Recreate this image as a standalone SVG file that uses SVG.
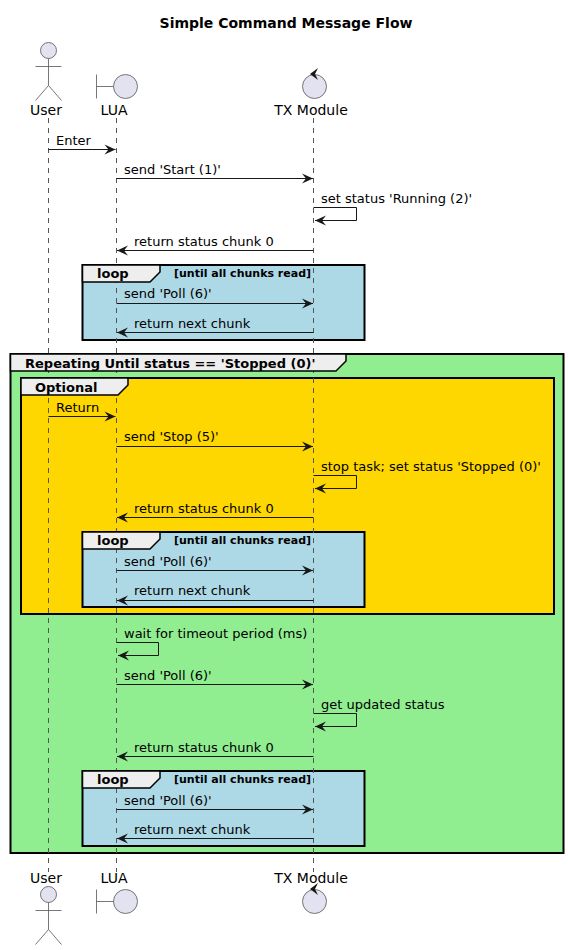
<svg xmlns="http://www.w3.org/2000/svg" width="568" height="950" viewBox="0 0 568 950">
<style>
text{font-family:"DejaVu Sans",sans-serif;fill:#000}
.title{font-size:14px;font-weight:bold;text-anchor:middle}
.name{font-size:14px;text-anchor:middle}
.msg{font-size:13px}
.gl{font-size:13px;font-weight:bold}
.gc{font-size:11px;font-weight:bold}
.life{stroke:#555;stroke-width:1;stroke-dasharray:5,5;fill:none}
.m{stroke:#181818;stroke-width:1;fill:none;marker-end:url(#arrow)}
.sh{fill:#E2E2F0;stroke:#555;stroke-width:.8}
.ln{fill:none;stroke:#555;stroke-width:.8}
.frame{stroke:#000;stroke-width:2}
.tab{fill:#EEE;stroke:#000;stroke-width:1.5}
</style>
<defs>
<marker id="arrow" markerUnits="userSpaceOnUse" markerWidth="14" markerHeight="12" refX="12" refY="6" orient="auto">
<path d="M1,1 L12,6 L1,11 L5,6 Z" fill="#181818"/>
</marker>
<g id="actor"><circle cx="0" cy="0" r="8" class="sh"/><path class="ln" d="M0,8V35M-13,16H13M0,35L-13,50M0,35L13,50"/></g>
<g id="boundary"><circle cx="0" cy="0" r="12" class="sh"/><path class="ln" d="M-12,0H-29M-29,-12V12"/></g>
<g id="control"><circle cx="0" cy="0" r="12" class="sh"/><path d="M-4.500,-12.500 L3.500,-18.500 L0.500,-12.500 L3.500,-6.500 Z" fill="#181818"/></g>
</defs>
<rect width="568" height="950" fill="#fff"/>
<text class="title" x="286" y="28">Simple Command Message Flow</text>

<g id="frames-fill">
<rect x="82.500" y="265" width="282" height="75" fill="#ADD8E6" class="frame"/>
<rect x="10.500" y="354" width="553" height="499" fill="#90EE90" class="frame"/>
<rect x="21" y="378" width="533" height="236" fill="#FFD700" class="frame"/>
<rect x="82.500" y="532" width="282" height="75" fill="#ADD8E6" class="frame"/>
<rect x="82.500" y="771" width="282" height="75" fill="#ADD8E6" class="frame"/>
</g>

<g id="lifelines">
<line class="life" x1="48.500" y1="118" x2="48.500" y2="872"/>
<line class="life" x1="116.500" y1="118" x2="116.500" y2="872"/>
<line class="life" x1="313.500" y1="118" x2="313.500" y2="872"/>
</g>

<g id="group-tabs">
<path class="tab" d="M82.500,265H160V272L150,282H82.500Z"/>
<text class="gl" x="97" y="278">loop</text><text class="gc" x="174" y="277">[until all chunks read]</text>
<path class="tab" d="M10.500,354H346V361L336,371H10.500Z"/>
<text class="gl" x="25" y="368">Repeating Until status == 'Stopped (0)'</text>
<path class="tab" d="M21,378H128V385L118,395H21Z"/>
<text class="gl" x="35" y="392">Optional</text>
<path class="tab" d="M82.500,532H160V539L150,549H82.500Z"/>
<text class="gl" x="97" y="545">loop</text><text class="gc" x="174" y="544">[until all chunks read]</text>
<path class="tab" d="M82.500,771H160V778L150,788H82.500Z"/>
<text class="gl" x="97" y="784">loop</text><text class="gc" x="174" y="783">[until all chunks read]</text>
</g>

<g id="connectors">
<line class="m" x1="48.500" y1="149.500" x2="115.500" y2="149.500"/>
<line class="m" x1="116.500" y1="178.500" x2="313" y2="178.500"/>
<path class="m" d="M313.500,207.500H356.500V220.500H315"/>
<line class="m" x1="313.500" y1="250.500" x2="117" y2="250.500"/>
<line class="m" x1="116.500" y1="303.500" x2="313" y2="303.500"/>
<line class="m" x1="313.500" y1="332.500" x2="117" y2="332.500"/>
<line class="m" x1="48.500" y1="416.500" x2="115.500" y2="416.500"/>
<line class="m" x1="116.500" y1="446.500" x2="313" y2="446.500"/>
<path class="m" d="M313.500,475.500H356.500V488.500H315"/>
<line class="m" x1="313.500" y1="517.500" x2="117" y2="517.500"/>
<line class="m" x1="116.500" y1="570.500" x2="313" y2="570.500"/>
<line class="m" x1="313.500" y1="600.500" x2="117" y2="600.500"/>
<path class="m" d="M116.500,642.500H158.500V655.500H118"/>
<line class="m" x1="116.500" y1="684.500" x2="313" y2="684.500"/>
<path class="m" d="M313.500,713.500H356.500V726.500H315"/>
<line class="m" x1="313.500" y1="756.500" x2="117" y2="756.500"/>
<line class="m" x1="116.500" y1="809.500" x2="313" y2="809.500"/>
<line class="m" x1="313.500" y1="838.500" x2="117" y2="838.500"/>
</g>

<g id="labels">
<text class="msg" x="56" y="145">Enter</text>
<text class="msg" x="124" y="174">send 'Start (1)'</text>
<text class="msg" x="321" y="203">set status 'Running (2)'</text>
<text class="msg" x="134" y="246">return status chunk 0</text>
<text class="msg" x="124" y="298">send 'Poll (6)'</text>
<text class="msg" x="134" y="328">return next chunk</text>
<text class="msg" x="56" y="412">Return</text>
<text class="msg" x="124" y="441">send 'Stop (5)'</text>
<text class="msg" x="321" y="471">stop task; set status 'Stopped (0)'</text>
<text class="msg" x="134" y="513">return status chunk 0</text>
<text class="msg" x="124" y="566">send 'Poll (6)'</text>
<text class="msg" x="134" y="595">return next chunk</text>
<text class="msg" x="124" y="638">wait for timeout period (ms)</text>
<text class="msg" x="124" y="680">send 'Poll (6)'</text>
<text class="msg" x="321" y="709">get updated status</text>
<text class="msg" x="134" y="752">return status chunk 0</text>
<text class="msg" x="124" y="805">send 'Poll (6)'</text>
<text class="msg" x="134" y="834">return next chunk</text>
</g>

<g id="user"><use href="#actor" x="48.500" y="50.500"/><text class="name" x="46" y="115">User</text></g>
<g id="lua"><use href="#boundary" x="125.500" y="86.500"/><text class="name" x="114" y="115">LUA</text></g>
<g id="tx-module"><use href="#control" x="314.500" y="86.500"/><text class="name" x="311" y="115">TX Module</text></g>
<g id="user-bottom"><use href="#actor" x="48.500" y="894.500"/><text class="name" x="46" y="883">User</text></g>
<g id="lua-bottom"><use href="#boundary" x="125.500" y="901.500"/><text class="name" x="114" y="883">LUA</text></g>
<g id="tx-module-bottom"><use href="#control" x="314.500" y="901.500"/><text class="name" x="311" y="883">TX Module</text></g>
</svg>
